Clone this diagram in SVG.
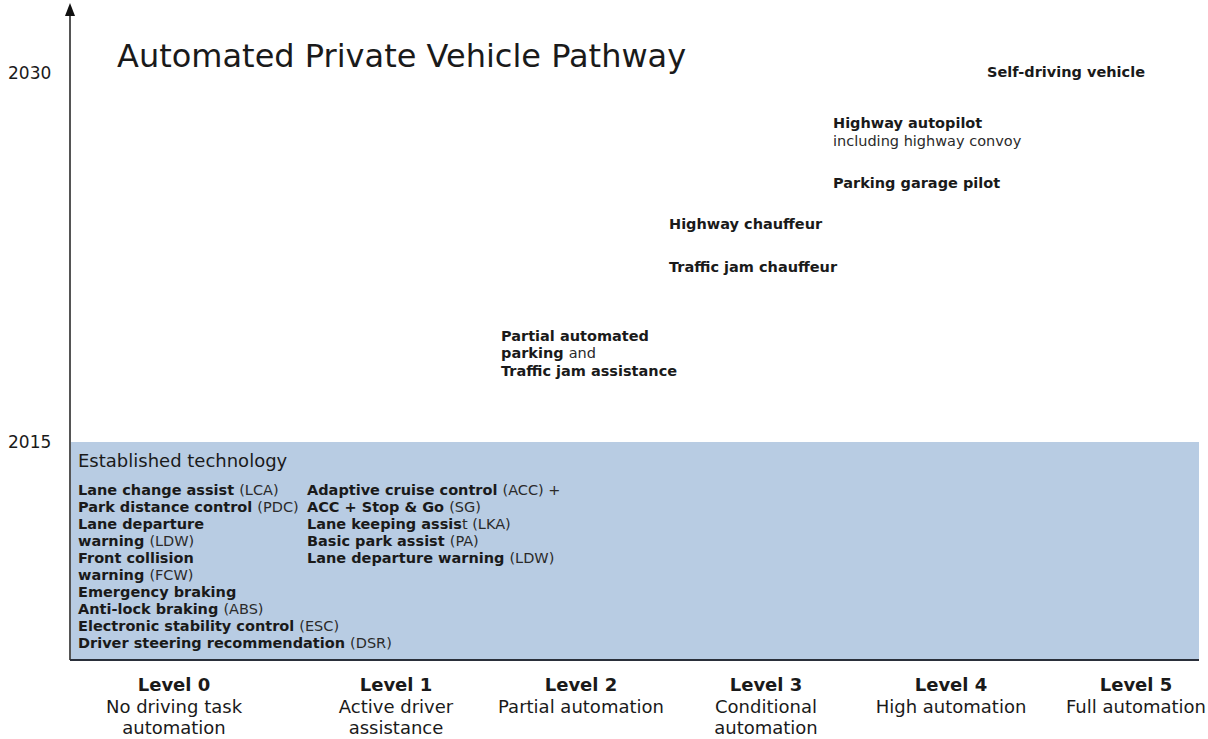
<svg xmlns="http://www.w3.org/2000/svg" width="1208" height="739" viewBox="0 0 1208 739">
<style>
text{font-family:"DejaVu Sans","Verdana",sans-serif;fill:#1a1a1a}
.b{font-weight:bold}
.r{font-weight:normal;fill:#2a2a2a}
.s14{font-size:14.5px}
.s15{font-size:17px}
.s17{font-size:18px}
.c{text-anchor:middle}
</style>
<rect width="1208" height="739" fill="#fff"/>
<g id="panel">
<rect x="70" y="442" width="1129" height="218" fill="#b8cce3"/>
</g>
<g id="axes">
<line x1="70" y1="660" x2="70" y2="14" stroke="#555" stroke-width="2"/>
<polygon points="70,3 65,16 75,16" fill="#111"/>
<line x1="70" y1="660" x2="1199" y2="660" stroke="#2a2f3a" stroke-width="2"/>
<text x="8" y="79" class="s15">2030</text>
<text x="8" y="448" class="s15">2015</text>
</g>
<g id="title">
<text x="117" y="67" style="font-size:32px">Automated Private Vehicle Pathway</text>
</g>
<g id="established">
<text x="78" y="467" class="s17">Established technology</text>
<g class="s14">
<text x="78" y="495" class="b">Lane change assist <tspan class="r">(LCA)</tspan></text>
<text x="78" y="512" class="b">Park distance control <tspan class="r">(PDC)</tspan></text>
<text x="78" y="529" class="b">Lane departure</text>
<text x="78" y="546" class="b">warning <tspan class="r">(LDW)</tspan></text>
<text x="78" y="563" class="b">Front collision</text>
<text x="78" y="580" class="b">warning <tspan class="r">(FCW)</tspan></text>
<text x="78" y="597" class="b">Emergency braking</text>
<text x="78" y="614" class="b">Anti-lock braking <tspan class="r">(ABS)</tspan></text>
<text x="78" y="631" class="b">Electronic stability control <tspan class="r">(ESC)</tspan></text>
<text x="78" y="648" class="b">Driver steering recommendation <tspan class="r">(DSR)</tspan></text>
<text x="307" y="495" class="b">Adaptive cruise control <tspan class="r">(ACC) +</tspan></text>
<text x="307" y="512" class="b">ACC + Stop &amp; Go <tspan class="r">(SG)</tspan></text>
<text x="307" y="529" class="b">Lane keeping assis<tspan class="r">t (LKA)</tspan></text>
<text x="307" y="546" class="b">Basic park assist <tspan class="r">(PA)</tspan></text>
<text x="307" y="563" class="b">Lane departure warning <tspan class="r">(LDW)</tspan></text>
</g>
</g>
<g id="level2-tech" class="s14">
<text x="501" y="341" class="b">Partial automated</text>
<text x="501" y="358" class="b">parking <tspan class="r">and</tspan></text>
<text x="501" y="376" class="b">Traffic jam assistance</text>
</g>
<g id="level3-tech" class="s14">
<text x="669" y="229" class="b">Highway chauffeur</text>
<text x="669" y="272" class="b">Traffic jam chauffeur</text>
</g>
<g id="level4-tech" class="s14">
<text x="833" y="128" class="b">Highway autopilot</text>
<text x="833" y="146" class="r">including highway convoy</text>
<text x="833" y="188" class="b">Parking garage pilot</text>
</g>
<g id="level5-tech" class="s14">
<text x="987" y="77" class="b">Self-driving vehicle</text>
</g>
<g id="levels" class="s17 c">
<g id="level0"><text x="174" y="691" class="b">Level 0</text><text x="174" y="713">No driving task</text><text x="174" y="734">automation</text></g>
<g id="level1"><text x="396" y="691" class="b">Level 1</text><text x="396" y="713">Active driver</text><text x="396" y="734">assistance</text></g>
<g id="level2"><text x="581" y="691" class="b">Level 2</text><text x="581" y="713">Partial automation</text></g>
<g id="level3"><text x="766" y="691" class="b">Level 3</text><text x="766" y="713">Conditional</text><text x="766" y="734">automation</text></g>
<g id="level4"><text x="951" y="691" class="b">Level 4</text><text x="951" y="713">High automation</text></g>
<g id="level5"><text x="1136" y="691" class="b">Level 5</text><text x="1136" y="713">Full automation</text></g>
</g>
</svg>
